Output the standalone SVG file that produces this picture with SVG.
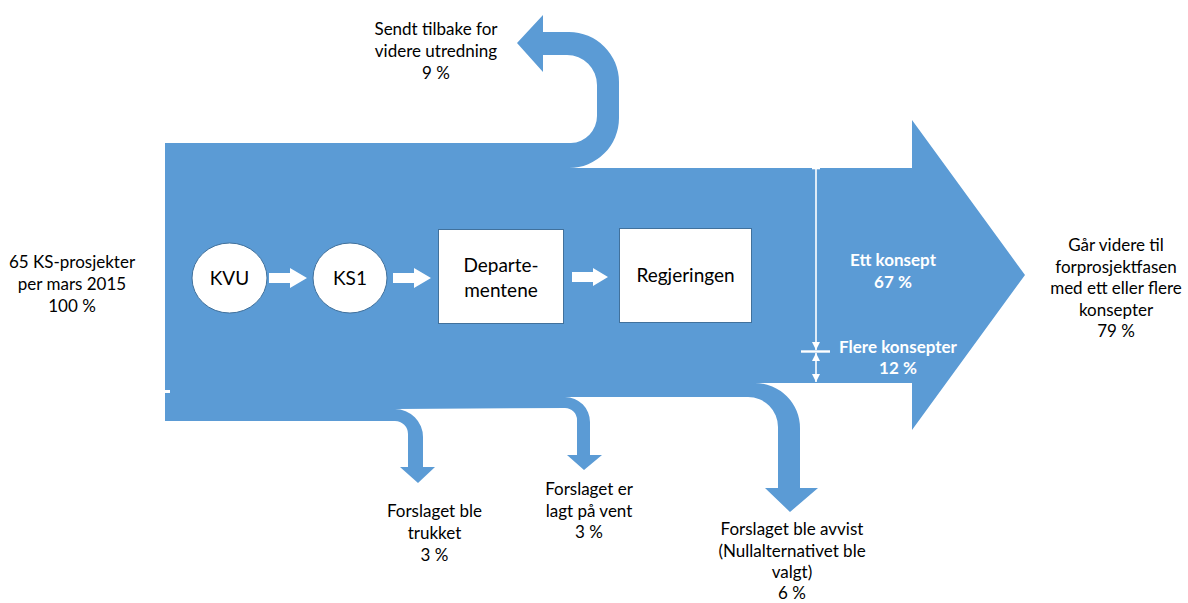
<svg xmlns="http://www.w3.org/2000/svg" width="1188" height="603" viewBox="0 0 1188 603">
<style>
.lbl{font-family:Lato,"Liberation Sans",sans-serif;font-size:17px;fill:#000;text-anchor:middle}
.ntx{font-family:Lato,"Liberation Sans",sans-serif;font-size:19px;fill:#000;text-anchor:middle}
.wtx{font-family:Lato,"Liberation Sans",sans-serif;font-size:17px;font-weight:bold;fill:#fff;text-anchor:middle}
.node{fill:#fff;stroke:#41719c;stroke-width:1}
.flow{fill:#5b9bd5}
.warrow{fill:#fff}
.dim{stroke:#fff;stroke-width:1.6;fill:none}
</style>
<defs>
<marker id="ah" viewBox="0 0 10 10" refX="10" refY="5" markerWidth="5" markerHeight="5" orient="auto-start-reverse" markerUnits="strokeWidth">
<path d="M0,0 L10,5 L0,10 Z" fill="#fff"/>
</marker>
</defs>
<g id="flow">
<path class="flow" d="M165,143 L571,143 A27,27 0 0 0 597,116 L597,85 A30,30 0 0 0 567,55 L543,55 L543,72 L517,43 L543,15 L543,32 L569,32 A50,50 0 0 1 619,82 L619,118 A50,50 0 0 1 569,168 L912,168 L912,120 L1025,275 L912,430 L912,383 L755,383 A45,45 0 0 1 800,428 L800,488 L818,488 L790,512 L765,488 L778,488 L778,427 A30,30 0 0 0 748,397 L565,397 A25,25 0 0 1 590,422 L590,455 L602,455 L584,470 L567,455 L577,455 L577,420 A12,12 0 0 0 565,408 L395,409 A28,28 0 0 1 423,437 L423,467 L435,467 L418,483 L400,467 L408,467 L408,434 A13,13 0 0 0 395,421 L165,421 Z"/>
<rect x="165" y="390" width="5" height="3" fill="#fff"/>
</g>
<g id="connectors">
<path class="warrow" d="M269,273 L290,273 L290,268 L307,278 L290,288 L290,283 L269,283 Z"/>
<path class="warrow" d="M393,273 L414,273 L414,268 L431,278 L414,288 L414,283 L393,283 Z"/>
<path class="warrow" d="M572,272 L593,272 L593,268 L608,277 L593,286 L593,282 L572,282 Z"/>
<line class="dim" x1="812" y1="168.5" x2="820" y2="168.5"/>
<line class="dim" x1="816" y1="168" x2="816" y2="350" marker-end="url(#ah)"/>
<line x1="801" y1="351.5" x2="830" y2="351.5" stroke="#fff" stroke-width="2.4"/>
<line class="dim" x1="816" y1="353" x2="816" y2="382" marker-start="url(#ah)" marker-end="url(#ah)"/>
</g>
<g id="kvu">
<ellipse class="node" cx="229.5" cy="278" rx="37.5" ry="35"/>
<text class="ntx" x="229.5" y="285">KVU</text>
</g>
<g id="ks1">
<ellipse class="node" cx="350" cy="278" rx="37" ry="35"/>
<text class="ntx" x="350" y="285">KS1</text>
</g>
<g id="departementene">
<rect class="node" x="438.5" y="229.5" width="125" height="94"/>
<text class="ntx" x="501" y="272">Departe-</text>
<text class="ntx" x="501" y="297">mentene</text>
</g>
<g id="regjeringen">
<rect class="node" x="619.5" y="228.5" width="132" height="94"/>
<text class="ntx" x="685.5" y="282">Regjeringen</text>
</g>
<g id="label-start">
<text class="lbl" x="72" y="268">65 KS-prosjekter</text>
<text class="lbl" x="72" y="290">per mars 2015</text>
<text class="lbl" x="72" y="312">100 %</text>
</g>
<g id="label-tilbake">
<text class="lbl" x="436" y="35">Sendt tilbake for</text>
<text class="lbl" x="436" y="57">videre utredning</text>
<text class="lbl" x="436" y="79">9 %</text>
</g>
<g id="label-videre">
<text class="lbl" x="1116" y="251">Går videre til</text>
<text class="lbl" x="1116" y="273">forprosjektfasen</text>
<text class="lbl" x="1116" y="294">med ett eller flere</text>
<text class="lbl" x="1116" y="316">konsepter</text>
<text class="lbl" x="1116" y="337">79 %</text>
</g>
<g id="label-trukket">
<text class="lbl" x="434.5" y="517">Forslaget ble</text>
<text class="lbl" x="434.5" y="539">trukket</text>
<text class="lbl" x="434.5" y="561">3 %</text>
</g>
<g id="label-vent">
<text class="lbl" x="589" y="495">Forslaget er</text>
<text class="lbl" x="589" y="517">lagt på vent</text>
<text class="lbl" x="589" y="538">3 %</text>
</g>
<g id="label-avvist">
<text class="lbl" x="792" y="535">Forslaget ble avvist</text>
<text class="lbl" x="792" y="557">(Nullalternativet ble</text>
<text class="lbl" x="792" y="578">valgt)</text>
<text class="lbl" x="792" y="599">6 %</text>
</g>
<g id="label-ett">
<text class="wtx" x="893" y="266">Ett konsept</text>
<text class="wtx" x="893" y="288">67 %</text>
</g>
<g id="label-flere">
<text class="wtx" x="898" y="353">Flere konsepter</text>
<text class="wtx" x="898" y="374">12 %</text>
</g>
</svg>
